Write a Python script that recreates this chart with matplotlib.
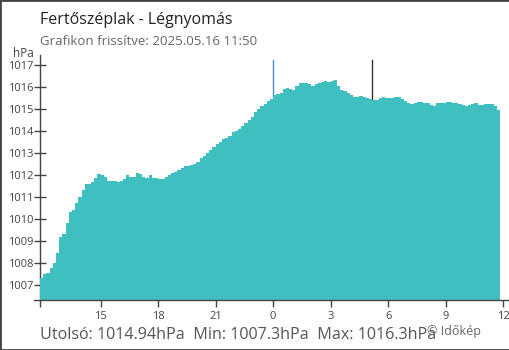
import matplotlib
matplotlib.use("Agg")
import matplotlib.pyplot as plt
from matplotlib.lines import Line2D
from matplotlib.patches import Rectangle
import numpy as np

plt.rcParams['font.family'] = ['Open Sans', 'DejaVu Sans']

# pressure readings, one every 10 minutes from 11:50 (previous day) to 11:50
start_hour = -12 - 10 / 60
step_hours = 10 / 60
pressure = [
    1007.3, 1007.5, 1007.55, 1007.75, 1008.0, 1008.45, 1009.2, 1009.3, 1009.8, 1010.3,
    1010.4, 1010.75, 1011.0, 1011.3, 1011.58, 1011.58, 1011.67, 1011.88, 1012.05, 1012.0,
    1011.9, 1011.72, 1011.74, 1011.75, 1011.7, 1011.74, 1011.82, 1012.0, 1011.9, 1011.92,
    1012.08, 1012.05, 1011.92, 1011.88, 1012.02, 1011.85, 1011.86, 1011.82, 1011.83, 1011.9,
    1012.02, 1012.1, 1012.15, 1012.24, 1012.32, 1012.4, 1012.4, 1012.46, 1012.5, 1012.6,
    1012.77, 1012.87, 1013.02, 1013.14, 1013.29, 1013.39, 1013.51, 1013.65, 1013.67, 1013.78,
    1013.96, 1014.0, 1014.1, 1014.25, 1014.35, 1014.5, 1014.65, 1014.87, 1015.02, 1015.14,
    1015.25, 1015.36, 1015.47, 1015.62, 1015.69, 1015.72, 1015.9, 1015.95, 1015.93, 1015.86,
    1016.04, 1016.16, 1016.18, 1016.2, 1016.14, 1016.03, 1016.15, 1016.2, 1016.25, 1016.29,
    1016.25, 1016.27, 1016.3, 1016.03, 1015.88, 1015.8, 1015.72, 1015.62, 1015.54, 1015.56,
    1015.6, 1015.55, 1015.5, 1015.45, 1015.4, 1015.4, 1015.5, 1015.56, 1015.52, 1015.52,
    1015.52, 1015.53, 1015.53, 1015.46, 1015.36, 1015.26, 1015.23, 1015.26, 1015.33, 1015.3,
    1015.29, 1015.27, 1015.18, 1015.12, 1015.28, 1015.28, 1015.26, 1015.31, 1015.3, 1015.26,
    1015.26, 1015.23, 1015.17, 1015.15, 1015.18, 1015.22, 1015.27, 1015.2, 1015.17, 1015.23,
    1015.25, 1015.22, 1015.14, 1014.94,
]

tick_hours = [start_hour, -9, -6, -3, 0, 3, 6, 9, 12]
tick_labels = ['', '15', '18', '21', '0', '3', '6', '9', '12']
y_ticks = [1007, 1008, 1009, 1010, 1011, 1012, 1013, 1014, 1015, 1016, 1017]

# midnight marker and sunrise marker
marker_hours = [0.0, 5.17]
marker_colors = ['#4a90c8', '#333333']

title = 'Fertőszéplak - Légnyomás'
subtitle = 'Grafikon frissítve: 2025.05.16 11:50'
stats = 'Utolsó: 1014.94hPa  Min: 1007.3hPa  Max: 1016.3hPa'

W, H = 510, 350
fig = plt.figure(figsize=(W / 100, H / 100), dpi=100)
ax = fig.add_axes([40 / W, 50 / H, 465 / W, 245 / H])

x_edges = start_hour + step_hours * np.arange(len(pressure) + 1)
vals = np.append(pressure, pressure[-1])
ax.fill_between(x_edges, vals, 1000, step='post', color='#40bfc1', lw=0, zorder=3)

for h, c in zip(marker_hours, marker_colors):
    ax.axvline(h, ymin=0, ymax=0.98, color=c, lw=1, zorder=2)

ax.set_xlim(start_hour, 12.1)
ax.set_ylim(1006.318, 1017.455)

ax.set_xticks(tick_hours)
ax.set_xticklabels(tick_labels)
ax.set_yticks(y_ticks)
ax.tick_params(axis='x', length=5, width=1, color='#444444', labelsize=8,
               labelcolor='#444444', pad=3)
ax.tick_params(axis='y', direction='inout', length=8.5, width=1, color='#444444',
               labelsize=8, labelcolor='#444444', pad=0.5)
ax.get_xticklines()[8].set_color(marker_colors[0])

for s in ['top', 'right', 'bottom']:
    ax.spines[s].set_visible(False)
ax.spines['left'].set_color('#444444')
ax.spines['left'].set_linewidth(1)

# bottom axis line starts a bit left of the y axis
fig.add_artist(Line2D([34 / W, 1], [50 / H, 50 / H], color='#444444', lw=1))

fig.text(40 / W, 1 - 24 / H, title, fontsize=11.5, color='#222222', va='baseline')
fig.text(40 / W, 1 - 45 / H, subtitle, fontsize=9.5, color='#666666', va='baseline')
fig.text(34 / W, 1 - 57 / H, 'hPa', fontsize=8.5, color='#444444', ha='right', va='baseline')
fig.text(40 / W, 1 - 339 / H, stats, fontsize=11.6, color='#555555', va='baseline')
fig.text(427 / W, 1 - 335 / H, '© Időkép', fontsize=9, color='#666666', va='baseline')

fig.add_artist(Rectangle((0, 0), 1, 1, transform=fig.transFigure, fill=False,
                         edgecolor='#444444', lw=2))

fig.savefig('out.png', dpi=100)
